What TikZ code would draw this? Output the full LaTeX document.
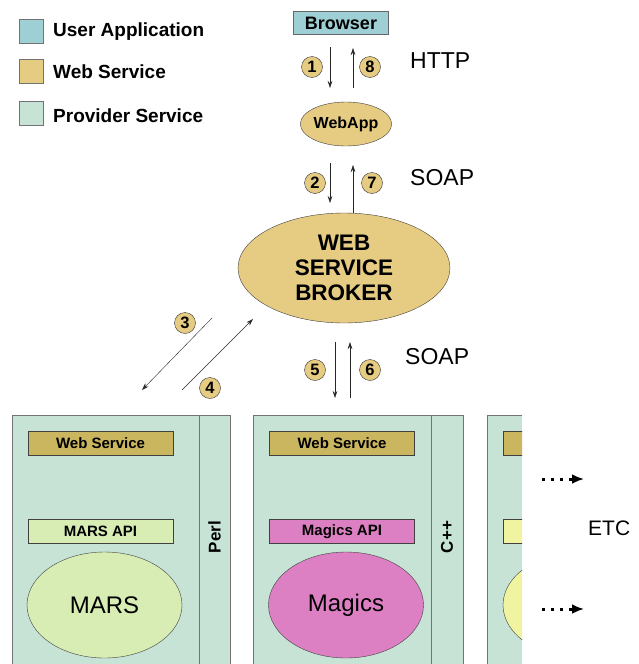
\documentclass[tikz,border=0pt]{standalone}
\usepackage{fontspec}
\setmainfont{Liberation Sans}
\usetikzlibrary{arrows.meta}
\usetikzlibrary{shapes.geometric}

\definecolor{userapp}{HTML}{9ECFD4}
\definecolor{websvc}{HTML}{E6CB82}
\definecolor{provsvc}{HTML}{C6E3D6}
\definecolor{wsbar}{HTML}{C9B65E}
\definecolor{marsgreen}{HTML}{D8EDB4}
\definecolor{magpink}{HTML}{DD80C3}
\definecolor{etcyellow}{HTML}{F0F4A0}

\begin{document}
\begin{tikzpicture}[x=1pt,y=-1pt,
	swatch/.style={draw=black!55, minimum size=24pt, inner sep=0pt},
	legendlabel/.style={anchor=mid west, inner sep=0pt, font=\fontsize{19}{19}\selectfont\bfseries},
	numdisc/.style={circle, draw=black!80, fill=websvc, minimum size=21pt, inner sep=0pt, font=\fontsize{16.5}{16.5}\selectfont\bfseries},
	wsoval/.style={ellipse, draw=black!75, fill=websvc, inner sep=0pt},
	bar/.style={draw=black!75, minimum width=145pt, minimum height=24pt, inner sep=0pt, font=\fontsize{15}{15}\selectfont\bfseries},
	proto/.style={anchor=mid west, inner sep=0pt, font=\fontsize{23}{23}\selectfont},
	msg/.style={draw=black!85, -{Stealth[length=7pt,width=4.5pt]}},
	more/.style={line width=3pt, dash pattern=on 2.5pt off 6.5pt, -{Latex[length=12pt,width=10pt]}},
	lang/.style={rotate=90, inner sep=0pt, font=\fontsize{17}{17}\selectfont\bfseries},
	core/.style={ellipse, draw=black!75, minimum width=155pt, minimum height=106pt, inner sep=0pt, font=\fontsize{24}{24}\selectfont}]
	\useasboundingbox (0,0) rectangle (638,664);

	\node[swatch, fill=userapp] (swua) at (31,31) {};
	\node[swatch, fill=websvc] (swws) at (31,71) {};
	\node[swatch, fill=provsvc] (swps) at (31,113) {};
	\node[legendlabel] (lgua) at (53,34) {User Application};
	\node[legendlabel] (lgws) at (53,76) {Web Service};
	\node[legendlabel] (lgps) at (53,120) {Provider Service};

	\node[draw=black!60, fill=userapp, minimum width=95pt, minimum height=23pt, inner sep=0pt, font=\fontsize{18}{18}\selectfont\bfseries] (browser) at (341,23) {Browser};
	\node[wsoval, minimum width=84pt, minimum height=44pt, font=\fontsize{16}{16}\selectfont\bfseries] (webapp) at (346,124) {WebApp};
	\node[wsoval, minimum width=212pt, minimum height=110pt, align=center, font=\fontsize{22.5}{25}\selectfont\bfseries] (broker) at (344,268) {WEB\\SERVICE\\BROKER};

	\coordinate (h1a) at (330,47); \coordinate (h1b) at (330,88);
	\coordinate (h8a) at (353,88); \coordinate (h8b) at (353,48);
	\coordinate (s2a) at (330,163); \coordinate (s2b) at (330,203);
	\coordinate (s7a) at (353,213); \coordinate (s7b) at (353,165);
	\coordinate (p3a) at (212,318); \coordinate (p3b) at (142,390);
	\coordinate (p4a) at (182,390); \coordinate (p4b) at (253,319);
	\coordinate (s5a) at (335,342); \coordinate (s5b) at (335,398);
	\coordinate (s6a) at (350,398); \coordinate (s6b) at (350,342);
	\draw[msg] (h1a)--(h1b);
	\draw[msg] (h8a)--(h8b);
	\draw[msg] (s2a)--(s2b);
	\draw[msg] (s7a)--(s7b);
	\draw[msg] (p3a)--(p3b);
	\draw[msg] (p4a)--(p4b);
	\draw[msg] (s5a)--(s5b);
	\draw[msg] (s6a)--(s6b);

	\node[numdisc] (n1) at (312,67) {1};
	\node[numdisc] (n8) at (370,67) {8};
	\node[numdisc] (n2) at (315,183) {2};
	\node[numdisc] (n7) at (372,183) {7};
	\node[numdisc] (n3) at (185,323) {3};
	\node[numdisc] (n4) at (210,388) {4};
	\node[numdisc] (n5) at (315,370) {5};
	\node[numdisc] (n6) at (370,370) {6};

	\node[proto] (http) at (410,66) {HTTP};
	\node[proto] (soapa) at (410,183) {SOAP};
	\node[proto] (soapb) at (405,362) {SOAP};

	\fill[provsvc] (12,415) rectangle (230,664);
	\draw[black!55] (12,664)--(12,415)--(230,415)--(230,664) (199,415)--(199,664);
	\node[bar, fill=wsbar] (marsws) at (100.5,443) {Web Service};
	\node[bar, fill=marsgreen] (marsapi) at (100.5,531.5) {MARS API};
	\node[core, fill=marsgreen] (mars) at (104.5,605) {MARS};
	\node[lang] (perl) at (214.5,537) {Perl};

	\fill[provsvc] (253,415) rectangle (463,664);
	\draw[black!55] (253,664)--(253,415)--(463,415)--(463,664) (431,415)--(431,664);
	\node[bar, fill=wsbar] (magws) at (342,443) {Web Service};
	\node[bar, fill=magpink] (magapi) at (342,531.5) {Magics API};
	\node[core, fill=magpink] (magics) at (346,605) {Magics};
	\node[lang] (cpp) at (447,537) {C++};

	\fill[provsvc] (487,415) rectangle (522,664);
	\draw[black!55] (487,664)--(487,415)--(522,415);
	\begin{scope}
		\clip (487,415) rectangle (522,664);
		\node[bar, fill=wsbar] (etcws) at (575.5,443) {};
		\node[bar, fill=etcyellow] (etcapi) at (575.5,531.5) {};
		\node[core, fill=etcyellow] (etccore) at (580.5,605) {};
	\end{scope}

	\coordinate (m1a) at (542,479); \coordinate (m1b) at (584,479);
	\coordinate (m2a) at (542,609); \coordinate (m2b) at (584,609);
	\draw[more] (m1a)--(m1b);
	\draw[more] (m2a)--(m2b);
	\node[proto, font=\fontsize{21}{21}\selectfont] (etc) at (588,533) {ETC};
\end{tikzpicture}
\end{document}
